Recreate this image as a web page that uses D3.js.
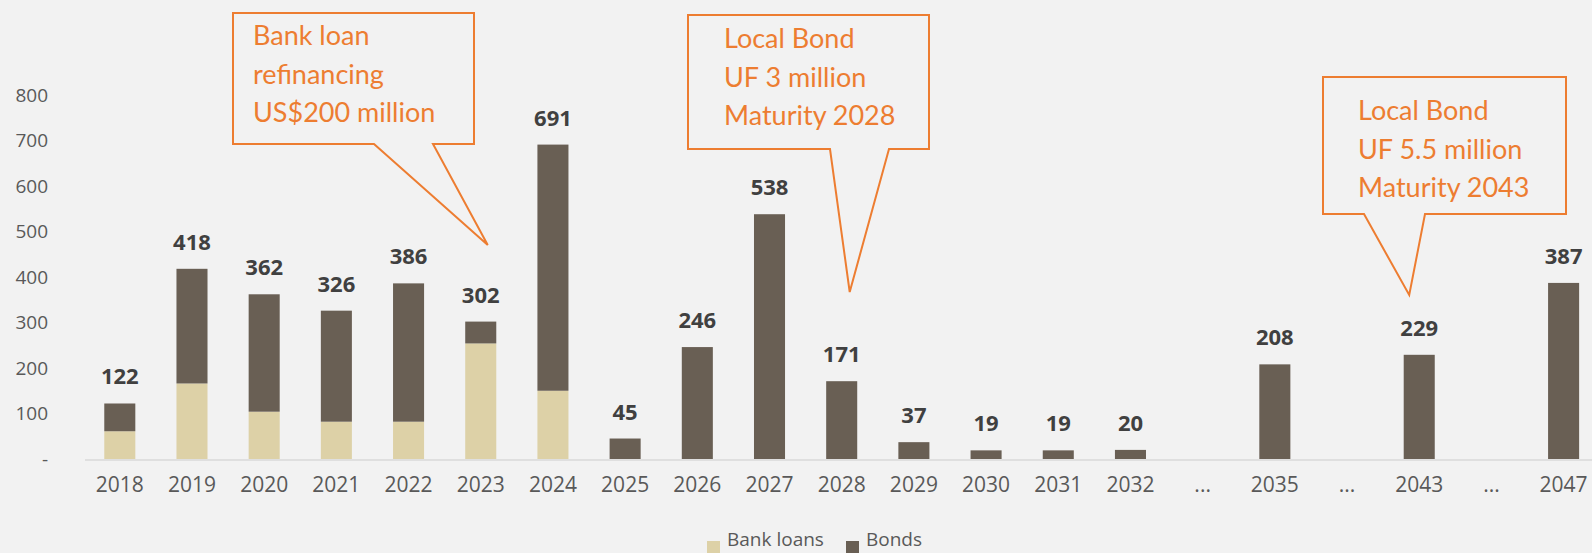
<!DOCTYPE html>
<html>
<head>
<meta charset="utf-8">
<script src="https://cdn.jsdelivr.net/npm/d3@7"></script>
<style>
  html, body { margin: 0; padding: 0; background: #f2f2f2; overflow: hidden; }
  svg { display: block; }
</style>
</head>
<body>
<div id="chart"></div>
<script>
// data (US$ million)
var categories = ["2018", "2019", "2020", "2021", "2022", "2023", "2024", "2025", "2026", "2027",
                  "2028", "2029", "2030", "2031", "2032", "...", "2035", "...", "2043", "...", "2047"];
var bankLoans = [61, 166, 104, 82, 82, 254, 150, 0, 0, 0, 0, 0, 0, 0, 0, 0, 0, 0, 0, 0, 0];
var bonds     = [61, 252, 258, 244, 304, 48, 541, 45, 246, 538, 171, 37, 19, 19, 20, 0, 208, 0, 229, 0, 387];
var yTicks = [0, 100, 200, 300, 400, 500, 600, 700, 800];
var seriesNames = ["Bank loans", "Bonds"];

var notes = [
  { idx: 5,  lines: ["Bank loan", "refinancing", "US$200 million"] },
  { idx: 10, lines: ["Local Bond", "UF 3 million", "Maturity 2028"] },
  { idx: 18, lines: ["Local Bond", "UF 5.5 million", "Maturity 2043"] }
];

var width = 1592, height = 553;
var palette = { bank: "#ddd1a7", bonds: "#695f54", orange: "#ed7d31", text: "#595959", label: "#404040" };

var rows = categories.map(function(c, i) {
  return { i: i, name: c, bank: bankLoans[i], bonds: bonds[i] };
});

var svg = d3.select("#chart").append("svg")
    .attr("width", width)
    .attr("height", height);

var x = d3.scaleBand()
    .domain(d3.range(categories.length))
    .range([83.7, 1599.7])
    .paddingInner(0.57)
    .paddingOuter(0.285);

var y = d3.scaleLinear()
    .domain([0, 800])
    .range([459, 95]);

// y axis labels (no line)
var yAxis = svg.append("g")
    .attr("transform", "translate(48,0)")
    .call(d3.axisLeft(y).tickValues(yTicks).tickSize(0).tickPadding(0)
      .tickFormat(function(d) { return d === 0 ? "-" : d; }));
yAxis.select(".domain").remove();
yAxis.selectAll("text")
    .style("font-family", "'Open Sans', sans-serif")
    .style("font-size", "19px")
    .attr("fill", palette.text);

// stacked bars
var stack = d3.stack().keys(["bank", "bonds"]);
var layers = stack(rows);

svg.append("g").selectAll("g")
  .data(layers)
  .enter().append("g")
    .attr("fill", function(d) { return d.key === "bank" ? palette.bank : palette.bonds; })
  .selectAll("rect")
  .data(function(d) { return d.filter(function(p) { return p[1] > p[0]; }); })
  .enter().append("rect")
    .attr("x", function(d) { return x(d.data.i); })
    .attr("width", x.bandwidth())
    .attr("y", function(d) { return y(d[1]); })
    .attr("height", function(d) { return y(d[0]) - y(d[1]); });

// x axis
svg.append("line")
    .attr("x1", 85).attr("x2", width)
    .attr("y1", y(0) + 1).attr("y2", y(0) + 1)
    .attr("stroke", "#d9d9d9")
    .attr("stroke-width", 1.5);

var xAxis = svg.append("g")
    .attr("transform", "translate(0," + (y(0) + 1) + ")")
    .call(d3.axisBottom(x).tickSize(0).tickPadding(17)
      .tickFormat(function(i) { return categories[i]; }));
xAxis.select(".domain").remove();
xAxis.selectAll("text")
    .style("font-family", "'Open Sans', sans-serif")
    .style("font-size", "21px")
    .attr("fill", palette.text);

// totals on top
svg.append("g").selectAll("text")
  .data(rows.filter(function(d) { return d.bank + d.bonds > 0; }))
  .enter().append("text")
    .attr("x", function(d) { return x(d.i) + x.bandwidth() / 2; })
    .attr("y", function(d) { return y(d.bank + d.bonds) - 19; })
    .attr("text-anchor", "middle")
    .style("font-family", "'Open Sans', sans-serif")
    .style("font-size", "22px")
    .style("font-weight", "bold")
    .attr("fill", palette.label)
    .text(function(d) { return d.bank + d.bonds; });

// legend (sits at the very bottom edge, as in the reference)
var legend = svg.append("g").attr("transform", "translate(707,546)");
var legX = [0, 139];
seriesNames.forEach(function(name, k) {
  var g = legend.append("g").attr("transform", "translate(" + legX[k] + ",0)");
  g.append("rect")
    .attr("x", 0).attr("y", -5)
    .attr("width", 13).attr("height", 12)
    .attr("fill", k === 0 ? palette.bank : palette.bonds);
  g.append("text")
    .attr("x", 20).attr("y", 0)
    .style("font-family", "'Open Sans', sans-serif")
    .style("font-size", "19px")
    .attr("fill", palette.text)
    .text(name);
});

// callouts: box [x0, y0, x1, y1], pointer base xs, tip offset from bar centre
var calloutBoxes = [
  { box: [233, 13, 474, 144], base: [374, 433], tip: [7, 245],  tx: 253, ty: 45 },
  { box: [688, 15, 929, 149], base: [830, 889], tip: [8, 292],  tx: 724, ty: 48 },
  { box: [1323, 77, 1566, 214], base: [1364, 1425], tip: [-10, 295], tx: 1358, ty: 120 }
];

notes.forEach(function(n, k) {
  var c = calloutBoxes[k];
  var tipX = x(n.idx) + x.bandwidth() / 2 + c.tip[0];
  var b = c.box;
  var path = d3.path();
  path.moveTo(b[0], b[1]);
  path.lineTo(b[2], b[1]);
  path.lineTo(b[2], b[3]);
  path.lineTo(c.base[1], b[3]);
  path.lineTo(tipX, c.tip[1]);
  path.lineTo(c.base[0], b[3]);
  path.lineTo(b[0], b[3]);
  path.closePath();
  svg.append("path")
    .attr("d", path.toString())
    .attr("fill", "#f2f2f2")
    .attr("stroke", palette.orange)
    .attr("stroke-width", 2)
    .attr("stroke-linejoin", "miter");
  svg.append("g").selectAll("text")
    .data(n.lines)
    .enter().append("text")
      .attr("x", c.tx)
      .attr("y", function(d, j) { return c.ty + j * 38.5; })
      .style("font-family", "Lato, sans-serif")
      .style("font-size", "27px")
      .attr("fill", palette.orange)
      .text(function(d) { return d; });
});
</script>
</body>
</html>
